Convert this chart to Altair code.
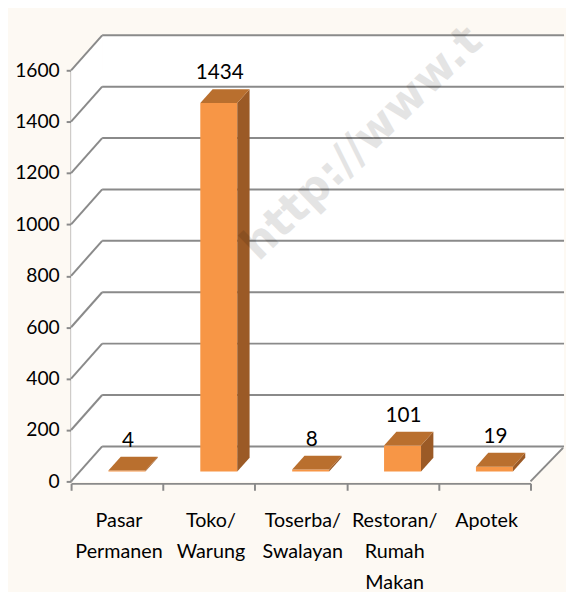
import altair as alt
import pandas as pd

# ---------------- data ----------------
categories = ["Pasar\nPermanen", "Toko/\nWarung", "Toserba/\nSwalayan",
              "Restoran/\nRumah\nMakan", "Apotek"]
values = [4, 1434, 8, 101, 19]
value_labels = ["4", "1434", "8", "101", "19"]
y_ticks = [0, 200, 400, 600, 800, 1000, 1200, 1400, 1600]
watermark = "http://www.t"

# ---------------- layout / style ----------------
W, H = 466, 417
YMAX = 1600
NCAT = len(categories)
XU = W / NCAT          # px per category unit
YU = H / YMAX          # px per value unit

BOX_DX, BOX_DY = 31.5, 35.5     # depth of the 3-D box
BAR_DX, BAR_DY = 10, 10         # bar front face pushed into depth
DEP_DX, DEP_DY = 12.5, 14       # bar depth
BAR_W = 37.5
BACK_RIGHT = 500                # right end of back wall (px from plot left)

FONT = "Lato"
GRID = "#8a8a8a"
C_FRONT = "#F79646"
C_TOP = "#B96F2E"
C_SIDE = "#9B5A26"

xs = alt.Scale(domain=[0, NCAT], nice=False, zero=False)
ys = alt.Scale(domain=[0, YMAX], nice=False)

# ---------------- tables ----------------
bars = pd.DataFrame({
    "cat": categories,
    "v": values,
    "lab": value_labels,
    "c": [i + 0.5 for i in range(NCAT)],
})
bars["xl"] = bars["c"] - BAR_W / 2 / XU
bars["xr"] = bars["c"] + BAR_W / 2 / XU

side_rows, top_rows = [], []
for _, r in bars.iterrows():
    side_rows.append({"cat": r["cat"], "x": r["xr"], "y": 0.0, "y2": r["v"]})
    side_rows.append({"cat": r["cat"], "x": r["xr"] + DEP_DX / XU,
                      "y": DEP_DY / YU, "y2": r["v"] + DEP_DY / YU})
    top_rows.append({"cat": r["cat"], "y": r["v"], "x": r["xl"], "x2": r["xr"]})
    top_rows.append({"cat": r["cat"], "y": r["v"] + DEP_DY / YU,
                     "x": r["xl"] + DEP_DX / XU, "x2": r["xr"] + DEP_DX / XU})
side = pd.DataFrame(side_rows)
top = pd.DataFrame(top_rows)

ticks = pd.DataFrame({"t": y_ticks})

wall_side = pd.DataFrame({"x": [0, BOX_DX / XU], "y": [0, BOX_DY / YU],
                          "y2": [YMAX, YMAX + BOX_DY / YU]})
floor = pd.DataFrame({"y": [0, BOX_DY / YU], "x": [0, BOX_DX / XU],
                      "x2": [NCAT, NCAT + 33 / XU]})
corner = pd.DataFrame({"x": [NCAT], "y": [0]})

# ---------------- layers ----------------
back_wall = alt.Chart(ticks).transform_filter("datum.t == 0").mark_rect(color="white").encode(
    x=alt.value(BOX_DX), x2=alt.value(BACK_RIGHT),
    y=alt.value(-BOX_DY), y2=alt.value(H - BOX_DY))

side_wall = alt.Chart(wall_side).mark_area(color="white", orient="vertical").encode(
    x=alt.X("x:Q", scale=xs,
            axis=alt.Axis(values=list(range(NCAT + 1)), labels=False, tickSize=7,
                          tickWidth=2, tickColor=GRID, domainColor=GRID,
                          domainWidth=2, grid=False, title=None, offset=2)),
    y=alt.Y("y:Q", scale=ys, stack=None,
            axis=alt.Axis(values=y_ticks, format="d", tickSize=5, tickWidth=2,
                          tickColor=GRID, domainColor=GRID, domainWidth=2,
                          labelFont=FONT, labelFontSize=19.5, labelColor="black",
                          labelPadding=7, grid=False, title=None)),
    y2="y2:Q")

floor_l = alt.Chart(floor).mark_area(color="white", orient="horizontal").encode(
    y=alt.Y("y:Q", scale=ys), x=alt.X("x:Q", scale=xs, stack=None), x2="x2:Q")

back_lines = alt.Chart(ticks).mark_rule(color=GRID, strokeWidth=2, yOffset=-BOX_DY).encode(
    y=alt.Y("t:Q", scale=ys), x=alt.value(BOX_DX), x2=alt.value(BACK_RIGHT))

diag_lines = alt.Chart(ticks).mark_rule(color=GRID, strokeWidth=2, y2Offset=-BOX_DY).encode(
    y=alt.Y("t:Q", scale=ys), y2=alt.Y2("t:Q"), x=alt.value(0), x2=alt.value(BOX_DX))

corner_line = alt.Chart(corner).mark_rule(color=GRID, strokeWidth=2,
                                          x2Offset=33, y2Offset=-34).encode(
    x=alt.X("x:Q", scale=xs), x2=alt.X2("x:Q"),
    y=alt.Y("y:Q", scale=ys), y2=alt.Y2("y:Q"))

front = alt.Chart(bars).mark_rect(color=C_FRONT, xOffset=BAR_DX, x2Offset=BAR_DX,
                                  yOffset=-BAR_DY, y2Offset=-BAR_DY).encode(
    x=alt.X("xl:Q", scale=xs), x2="xr:Q",
    y=alt.Y("v:Q", scale=ys), y2=alt.datum(0))

side_face = alt.Chart(side).mark_area(color=C_SIDE, orient="vertical",
                                      xOffset=BAR_DX, yOffset=-BAR_DY,
                                      y2Offset=-BAR_DY).encode(
    x=alt.X("x:Q", scale=xs), y=alt.Y("y:Q", scale=ys, stack=None), y2="y2:Q",
    detail="cat:N")

top_face = alt.Chart(top).mark_area(color=C_TOP, orient="horizontal",
                                    xOffset=BAR_DX, x2Offset=BAR_DX,
                                    yOffset=-BAR_DY).encode(
    y=alt.Y("y:Q", scale=ys), x=alt.X("x:Q", scale=xs, stack=None), x2="x2:Q",
    detail="cat:N")

value_text = alt.Chart(bars).mark_text(font=FONT, fontSize=21, color="black",
                                       baseline="middle", align="center",
                                       dx=BAR_DX + 1, dy=-40).encode(
    x=alt.X("c:Q", scale=xs), y=alt.Y("v:Q", scale=ys), text="lab:N")

cat_text = alt.Chart(bars).mark_text(font=FONT, fontSize=20, color="black",
                                     baseline="top", align="center",
                                     lineBreak="\n", lineHeight=31.5, dx=2, dy=30).encode(
    x=alt.X("c:Q", scale=xs), y=alt.datum(0), text="cat:N")

wm = alt.Chart(ticks).transform_filter("datum.t == 0").mark_text(
    font="DejaVu Sans", fontWeight="bold", fontSize=45, angle=316,
    color="black", opacity=0.1, align="center", baseline="middle",
    text=watermark).encode(x=alt.value(295), y=alt.value(74))

chart = alt.layer(
    back_wall, side_wall, floor_l, back_lines, diag_lines, corner_line,
    front, side_face, top_face, value_text, cat_text, wm
).properties(
    width=W, height=H,
    autosize=alt.AutoSizeParams(type="none"),
    padding={"left": 64, "top": 59, "right": 36, "bottom": 108},
    background="#fdf9f3",
).configure_view(stroke=None, fill="white")

chart.save("out.html", embed_options={"renderer": "svg", "actions": False})
